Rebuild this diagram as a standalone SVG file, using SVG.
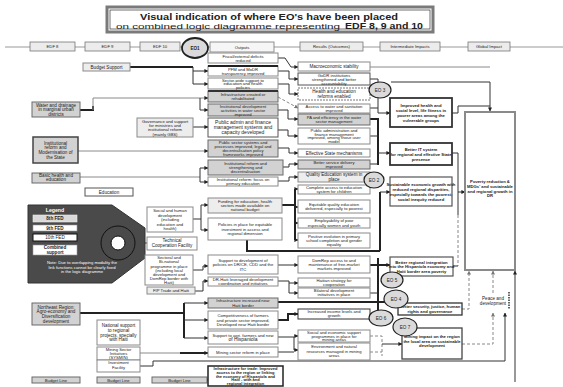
<svg xmlns="http://www.w3.org/2000/svg" width="563" height="387" viewBox="0 0 563 387">
<style>
.bx{fill:#fff;stroke:#8a8a8a;stroke-width:1}
.gy{fill:#d2d2d2;stroke:#6a6a6a;stroke-width:1}
.lg{fill:#ededed;stroke:#8a8a8a;stroke-width:1}
.dk{fill:#fff;stroke:#333;stroke-width:1.6}
.ds{fill:#fff;stroke:#777;stroke-width:1;stroke-dasharray:2 1}
.t{font-family:"Liberation Sans",Arial,sans-serif;font-size:4.6px;fill:#222;text-anchor:middle}
.s{font-size:4.2px}
.b{font-weight:bold}
.w{fill:#fff}
.c{fill:none;stroke:#333;stroke-width:1}
.ct{fill:none;stroke:#222;stroke-width:2}
.cg{fill:none;stroke:#8a8a8a;stroke-width:1}
.cd{fill:none;stroke:#888;stroke-width:1;stroke-dasharray:3 2}
.eo{fill:#dadada;stroke:#222;stroke-width:1.2}
.tab{fill:#ececec;stroke:#777;stroke-width:0.8}
</style>
<defs>
<marker id="a" markerWidth="4" markerHeight="4" refX="3.6" refY="2" orient="auto" markerUnits="userSpaceOnUse"><path d="M0,0 L4,2 L0,4z" fill="#222"/></marker>
<marker id="ag" markerWidth="4" markerHeight="4" refX="3.6" refY="2" orient="auto" markerUnits="userSpaceOnUse"><path d="M0,0 L4,2 L0,4z" fill="#777"/></marker>
</defs>
<rect width="563" height="387" fill="#fff"/>

<g id="title">
<rect x="107" y="7" width="326" height="25" fill="#fff" stroke="#7a7a7a" stroke-width="3"/>
<rect x="110" y="10" width="320" height="19" fill="none" stroke="#333" stroke-width="0.7"/>
<text class="t b" x="140" y="20" style="font-size:9.5px;text-anchor:start" textLength="258" lengthAdjust="spacingAndGlyphs">Visual indication of where EO's have been placed</text>
<text class="t" x="116" y="29" style="font-size:7.5px;text-anchor:start" textLength="224" lengthAdjust="spacingAndGlyphs">on combined logic diagramme representing</text>
<text class="t b" x="345" y="29" style="font-size:9px;text-anchor:start" textLength="78" lengthAdjust="spacingAndGlyphs">EDF 8, 9 and 10</text>
</g>

<g id="header">
<line x1="5" y1="47" x2="563" y2="47" stroke="#999" stroke-width="1"/>
<rect class="tab" x="30" y="42" width="45" height="9"/><text class="t s" x="52.5" y="48">EDF 8</text>
<rect class="tab" x="85" y="42" width="45" height="9"/><text class="t s" x="107.5" y="48">EDF 9</text>
<rect class="tab" x="140" y="42" width="40" height="9"/><text class="t s" x="160" y="48">EDF 10</text>
<rect class="tab" x="210" y="42" width="64" height="10" style="fill:#f6f6f6"/><text class="t s" x="242" y="48.5">Outputs</text>
<rect class="tab" x="300" y="42" width="63" height="9"/><text class="t s" x="331.5" y="48">Results (Outcomes)</text>
<rect class="tab" x="380" y="42" width="60" height="9"/><text class="t s" x="410" y="48">Intermediate Impacts</text>
<rect class="tab" x="468" y="42" width="42" height="9"/><text class="t s" x="489" y="48">Global Impact</text>
</g>

<g id="connectors">
<path class="ct" d="M130,67 H193"/>
<path class="c" d="M193,67 V71 H208" marker-end="url(#a)"/>
<path class="c" d="M193,71 V84 H208" marker-end="url(#a)"/>
<path class="ct" d="M80,110 H93 V106"/>
<path class="cg" d="M93,98 V110"/>
<path class="cg" d="M93,98 H208" marker-end="url(#a)"/>
<path class="c" d="M200,98 V110 H208" marker-end="url(#a)"/>
<path class="c" d="M193,127 H208" marker-end="url(#a)"/>
<path class="cg" d="M78,151 H208" marker-end="url(#a)"/>
<path class="cg" d="M80,177 H200"/>
<path class="c" d="M200,168 V182"/>
<path class="c" d="M200,168 H208" marker-end="url(#a)"/>
<path class="c" d="M200,182 H208" marker-end="url(#a)"/>
<path class="c" d="M193,219 H201 V205 H208" marker-end="url(#a)"/>
<path class="c" d="M201,219 V230 H208" marker-end="url(#a)"/>
<path class="c" d="M135,243 H147"/>
<path class="c" d="M193,270 H203 V266 H208" marker-end="url(#a)"/>
<path class="c" d="M195,291 H203 V281 H208" marker-end="url(#a)"/>
<path class="ct" d="M80,313 H184"/>
<path class="ct" d="M184,303 V338"/>
<path class="c" d="M184,303 H208" marker-end="url(#a)"/>
<path class="c" d="M184,320 H208" marker-end="url(#a)"/>
<path class="c" d="M184,338 H208" marker-end="url(#a)"/>
<path class="cg" d="M140,353 H180"/>
<path class="ct" d="M180,353 H208" marker-end="url(#a)"/>
<path class="c" d="M140,366 H153 V361 H505 V313" marker-end="url(#a)"/>
<path class="c" d="M207,380 H208"/>
<path class="c" d="M278,58 H285 L291,67 H298" marker-end="url(#a)"/>
<path class="c" d="M278,71 H289 V79 H298" marker-end="url(#a)"/>
<path class="c" d="M278,84 H289 V94 H298" marker-end="url(#a)"/>
<path class="cd" d="M278,97 L298,108" marker-end="url(#ag)"/>
<path class="c" d="M278,110 H288 V119 H298" marker-end="url(#a)"/>
<path class="c" d="M278,130 H288 V136 H298" marker-end="url(#a)"/>
<path class="c" d="M278,148 H289 V153 H298" marker-end="url(#a)"/>
<path class="c" d="M278,167 H289 V164 H298" marker-end="url(#a)"/>
<path class="c" d="M278,181 H289 V177 H298" marker-end="url(#a)"/>
<path class="ct" d="M278,205 H295"/>
<path class="ct" d="M295,189 V240"/>
<path class="c" d="M295,189 H298" marker-end="url(#a)"/>
<path class="c" d="M295,207 H298" marker-end="url(#a)"/>
<path class="c" d="M295,223 H298" marker-end="url(#a)"/>
<path class="c" d="M295,240 H298" marker-end="url(#a)"/>
<path class="ct" d="M247,240 V251 H380"/>
<path class="ct" d="M380,192 V251"/>
<path class="c" d="M380,192 H390" marker-end="url(#a)"/>
<path class="c" d="M278,265 H298" marker-end="url(#a)"/>
<path class="c" d="M278,281 H289 V293 H298" marker-end="url(#a)"/>
<path class="c" d="M289,283 H298" marker-end="url(#a)"/>
<path class="ct" d="M278,302 H385"/>
<path class="ct" d="M278,320 H288 V314 H298" marker-end="url(#a)"/>
<path class="c" d="M278,337 H294 V350 H298" marker-end="url(#a)"/>
<path class="c" d="M294,336 H298" marker-end="url(#a)"/>
<path class="c" d="M278,352 H294"/>
<path class="cg" d="M370,67 H490"/>
<path class="c" d="M391,82 H490 V111" marker-end="url(#a)"/>
<path class="c" d="M370,79 H378 V113 H390" marker-end="url(#a)"/>
<path class="c" d="M370,94 H378 M370,108 H378"/>
<path class="c" d="M452,113 H458 V106 H490"/>
<path class="ct" d="M370,119 H378 V165"/>
<path class="c" d="M370,136 H378 M370,164 H378"/>
<path class="c" d="M378,153 H390" marker-end="url(#a)"/>
<path class="c" d="M452,153 H458 V215"/>
<path class="c" d="M458,192 H465" marker-end="url(#a)"/>
<path class="cd" d="M458,215 V266"/>
<path class="c" d="M453,266 H458"/>
<path class="ct" d="M370,265 H390" marker-end="url(#a)"/>
<path class="ct" d="M378,258 V318"/>
<path class="c" d="M370,293 H378 M370,314 H378"/>
<path class="cd" d="M462,309 H469 V271" marker-end="url(#ag)"/>
<path class="cd" d="M493,293 V271" marker-end="url(#ag)"/>
<path class="cd" d="M462,344 H493 V313" marker-end="url(#ag)"/>
<path d="M509,292 V309" fill="none" stroke="#333" stroke-width="1.5" stroke-dasharray="1.5 1"/>
<path class="c" d="M515,382 V271" marker-end="url(#a)"/>
<path class="cd" d="M370,336 H382 V356 M370,352 H382"/>
<path class="c" d="M382,344 H402" marker-end="url(#a)"/>
</g>

<g id="legend">
<polygon points="28,205 112,205 145,228 145,258 112,283 28,283" fill="#4a4a4a" stroke="#333"/>
<text class="t b w" x="55" y="212" style="font-size:5.2px">Legend</text>
<rect x="33" y="215" width="44" height="7" fill="#d9d9d9" stroke="#eee" stroke-width="0.6"/><text class="t b" x="55" y="220.3">8th FED</text>
<rect x="33" y="225" width="44" height="6" fill="#fff" stroke="#999" stroke-width="0.6"/><text class="t b" x="55" y="229.8">9th FED</text>
<rect x="33" y="234" width="44" height="7" fill="#fff" stroke="#111" stroke-width="1"/><text class="t" x="55" y="239.3">10th FED</text>
<rect x="33" y="245" width="44" height="10" fill="#fff" stroke="#999" stroke-width="0.6"/><text class="t b" x="55" y="249.3">Combined<tspan x="55" dy="4.4">support</tspan></text>
<circle cx="118" cy="243" r="17" fill="none" stroke="#111" stroke-width="1"/>
<circle cx="118" cy="243" r="7" fill="#fff" stroke="#111" stroke-width="1"/>
<text class="t w s" x="82" y="264">Note: Due to overlapping modality the<tspan x="82" dy="4.6">link functions cannot be clearly fixed</tspan><tspan x="82" dy="4.6">in the logic diagramme</tspan></text>
</g>

<g id="edf8">
<g id="n-water"><rect class="gy" x="32" y="102" width="48" height="15"/><text class="t" x="56" y="106.8">Water and drainage<tspan x="56" dy="4.5">in marginal urban</tspan><tspan x="56" dy="4.5">districts</tspan></text></g>
<g id="n-inst"><rect x="33" y="137" width="45" height="26" fill="#d2d2d2" stroke="#444" stroke-width="1.5"/><text class="t" x="55.5" y="144.6">Institutional<tspan x="55.5" dy="4.8">reform and</tspan><tspan x="55.5" dy="4.8">Modernisation of</tspan><tspan x="55.5" dy="4.8">the State</tspan></text></g>
<g id="n-basic"><rect class="gy" x="32" y="173" width="48" height="10"/><text class="t" x="56" y="176.8">Basic health and<tspan x="56" dy="4.4">education</tspan></text></g>
<g id="n-ne"><rect class="gy" x="32" y="303" width="48" height="22"/><text class="t" x="56" y="308.8">Northeast Region:<tspan x="56" dy="4.6">Agro-economy and</tspan><tspan x="56" dy="4.6">Diversification</tspan><tspan x="56" dy="4.6">development</tspan></text></g>
<g id="n-bl1"><rect class="gy" x="32" y="377" width="48" height="6"/><text class="t s" x="56" y="381.5">Budget Line</text></g>
</g>

<g id="edf9">
<g id="n-budget"><rect class="lg" x="83" y="63" width="47" height="8"/><text class="t" x="106.5" y="68.6">Budget Support</text></g>
<g id="n-edu"><rect class="bx" x="85" y="188" width="48" height="8" style="stroke:#555"/><text class="t" x="109" y="193.6">Education</text></g>
<g id="n-natsup"><rect class="bx" x="97" y="320" width="43" height="25"/><text class="t" x="118.5" y="327.3">National support<tspan x="118.5" dy="4.6">to regional</tspan><tspan x="118.5" dy="4.6">projects, specially</tspan><tspan x="118.5" dy="4.6">with Haiti</tspan></text></g>
<g id="n-sysmin"><rect class="bx" x="97" y="347" width="43" height="13"/><text class="t s" x="118.5" y="350.8">Mining Sector<tspan x="118.5" dy="4">Initiatives</tspan><tspan x="118.5" dy="4">(SYSMIN)</tspan></text></g>
<g id="n-invest"><rect class="bx" x="97" y="360" width="43" height="12"/><text class="t s" x="118.5" y="364.4">Investment<tspan x="118.5" dy="4.4">Facility</tspan></text></g>
<g id="n-bl2"><rect class="gy" x="97" y="377" width="43" height="6"/><text class="t s" x="118.5" y="381.5">Budget Line</text></g>
</g>

<g id="edf10">
<g id="n-gov"><rect class="lg" x="137" y="118" width="56" height="19"/><text class="t s" x="165" y="122.6">Governance and support<tspan x="165" dy="4.4">for ministries and</tspan><tspan x="165" dy="4.4">institutional reform</tspan><tspan x="165" dy="4.4">(mainly GBS)</tspan></text></g>
<g id="n-social"><rect class="bx" x="147" y="207" width="46" height="25"/><text class="t s" x="170" y="211.9">Social and human<tspan x="170" dy="4.6">development</tspan><tspan x="170" dy="4.6">(including</tspan><tspan x="170" dy="4.6">education and</tspan><tspan x="170" dy="4.6">health)</tspan></text></g>
<g id="n-tcf"><rect class="bx" x="147" y="237" width="50" height="13"/><text class="t" x="172" y="241.9">Technical<tspan x="172" dy="4.6">Cooperation Facility</tspan></text></g>
<g id="n-sect"><rect class="bx" x="145" y="255" width="48" height="30"/><text class="t s" x="169" y="259.3">Sectoral and<tspan x="169" dy="4.1">Bi-national</tspan><tspan x="169" dy="4.1">programme in place</tspan><tspan x="169" dy="4.1">(including local</tspan><tspan x="169" dy="4.1">development and</tspan><tspan x="169" dy="4.1">DomRep border with</tspan><tspan x="169" dy="4.1">Haiti)</tspan></text></g>
<g id="n-fip"><rect class="lg" x="147" y="287" width="48" height="7"/><text class="t s" x="171" y="292">FIP Trade and Haiti</text></g>
<g id="n-bl3"><rect class="gy" x="152" y="377" width="55" height="6"/><text class="t s" x="179.5" y="381.5">Budget Line</text></g>
</g>

<g id="outputs">
<g id="o1"><rect class="bx" x="208" y="53" width="70" height="10"/><text class="t s" x="243" y="57.6">Fiscal/external deficits<tspan x="243" dy="4.2">reduced</tspan></text></g>
<g id="o2"><rect class="bx" x="208" y="66" width="70" height="10"/><line x1="208" y1="66" x2="278" y2="66" stroke="#222" stroke-width="2"/><text class="t s" x="243" y="70.6">PFM and MoDR<tspan x="243" dy="4.2">transparency improved</tspan></text></g>
<g id="o3"><rect class="bx" x="208" y="78" width="70" height="11"/><text class="t s" x="243" y="81.6">Sector-wide support to<tspan x="243" dy="3.8">education and health</tspan><tspan x="243" dy="3.8">policies</tspan></text></g>
<g id="o4"><rect class="gy" x="208" y="91" width="70" height="11"/><line x1="208" y1="91" x2="278" y2="91" stroke="#333" stroke-width="2"/><text class="t s" x="243" y="95.8">Infrastructure created or<tspan x="243" dy="4.4">rehabilitated</tspan></text></g>
<g id="o5"><rect class="gy" x="208" y="104" width="70" height="12"/><text class="t s" x="243" y="107.7">Institutional development<tspan x="243" dy="3.9">activities in water sector</tspan><tspan x="243" dy="3.9">improved</tspan></text></g>
<g id="o6"><rect class="bx" x="208" y="118" width="70" height="19" style="stroke:#555"/><text class="t" x="243" y="124.3" style="font-size:5px">Public admin and finance<tspan x="243" dy="4.8">management systems and</tspan><tspan x="243" dy="4.8">capacity developed</tspan></text></g>
<g id="o7"><rect class="gy" x="208" y="140" width="70" height="17"/><text class="t s" x="243" y="144.1">Public sector systems and<tspan x="243" dy="4">processes improved, legal and</tspan><tspan x="243" dy="4">decentralisation policy</tspan><tspan x="243" dy="4">frameworks improved</tspan></text></g>
<g id="o8"><rect class="gy" x="208" y="160" width="75" height="15"/><text class="t s" x="245.5" y="164.8">Institutional reform and<tspan x="245.5" dy="4.3">strengthening and</tspan><tspan x="245.5" dy="4.3">decentralisation</tspan></text></g>
<g id="o9"><rect class="bx" x="208" y="177" width="70" height="9"/><text class="t s" x="243" y="181.1">Institutional reform: focus on<tspan x="243" dy="3.8">primary education</tspan></text></g>
<g id="o10"><rect class="lg" x="208" y="198" width="74" height="15"/><text class="t s" x="245" y="202.9">Funding for education, health<tspan x="245" dy="4.2">sectors made available on</tspan><tspan x="245" dy="4.2">national budget</tspan></text></g>
<g id="o11"><rect class="bx" x="208" y="218" width="74" height="22"/><text class="t s" x="245" y="226">Policies in place for equitable<tspan x="245" dy="4.6">investment in access and</tspan><tspan x="245" dy="4.6">regional dimension</tspan></text></g>
<g id="o12"><rect class="bx" x="208" y="255" width="70" height="19"/><text class="t s" x="243" y="261.5">Support to development of<tspan x="243" dy="4.6">policies on DR/CE, CDD and the</tspan><tspan x="243" dy="4.6">ITC</tspan></text></g>
<g id="o13"><rect class="bx" x="208" y="277" width="70" height="9"/><text class="t s" x="243" y="281">DR-Haiti leveraged development<tspan x="243" dy="3.9">coordination and initiatives</tspan></text></g>
<g id="o14"><rect class="gy" x="208" y="298" width="70" height="10"/><text class="t s" x="243" y="302.4">Infrastructure increased near<tspan x="243" dy="4.2">Haiti border</tspan></text></g>
<g id="o15"><rect class="bx" x="208" y="311" width="70" height="18"/><text class="t s" x="243" y="317.2">Competitiveness of farmers<tspan x="243" dy="4.4">and private sector improved,</tspan><tspan x="243" dy="4.4">Developed near Haiti border</tspan></text></g>
<g id="o16"><rect class="bx" x="208" y="331" width="70" height="13"/><text class="t s" x="243" y="336.6">Support to agri. farmers and new<tspan x="243" dy="4.6" style="font-size:5px">of Hispaniola</tspan></text></g>
<g id="o17"><rect class="bx" x="208" y="347" width="70" height="10"/><text class="t s" x="243" y="353.5">Mining sector reform in place</text></g>
<g id="o18"><rect x="208" y="366" width="75" height="20" fill="#fff" stroke="#222" stroke-width="1.5"/><text class="t b" x="245.5" y="370.1" style="font-size:4px">Infrastructure for trade: Improved<tspan x="245.5" dy="3.7">access to the region or linking</tspan><tspan x="245.5" dy="3.7">the economy of Hispaniola and</tspan><tspan x="245.5" dy="3.7">Haiti - with and</tspan><tspan x="245.5" dy="3.7">regional integration</tspan></text></g>
</g>

<g id="results">
<g id="r1"><rect class="bx" x="298" y="62" width="72" height="9"/><text class="t" x="334" y="68.2">Macroeconomic stability</text></g>
<g id="r2"><rect class="bx" x="298" y="73" width="72" height="12" style="stroke:#555"/><text class="t s" x="334" y="76.7">GoDR institutions<tspan x="334" dy="3.9">strengthened and better</tspan><tspan x="334" dy="3.9">accountability</tspan></text></g>
<g id="r3"><rect class="ds" x="298" y="88" width="72" height="12"/><text class="t" x="334" y="93.4">Health and education<tspan x="334" dy="4.4">reforms enabled</tspan></text></g>
<g id="r4"><rect class="bx" x="298" y="104" width="72" height="9"/><text class="t s" x="334" y="107.9">Access to water and sanitation<tspan x="334" dy="4">improved</tspan></text></g>
<g id="r5"><rect class="gy" x="298" y="114" width="72" height="11"/><text class="t s" x="334" y="118.9">PA and efficiency in the water<tspan x="334" dy="4.2">sector management</tspan></text></g>
<g id="r6"><rect class="bx" x="298" y="128" width="72" height="16"/><text class="t s" x="334" y="132">Public administration and<tspan x="334" dy="3.7">finance management</tspan><tspan x="334" dy="3.7">improved, among those user</tspan><tspan x="334" dy="3.7">model</tspan></text></g>
<g id="r7"><rect class="bx" x="298" y="149" width="72" height="8"/><text class="t" x="334" y="154.6">Effective State mechanisms</text></g>
<g id="r8"><rect class="gy" x="298" y="160" width="72" height="9"/><text class="t s" x="334" y="163.9">Better service delivery<tspan x="334" dy="4">improved</tspan></text></g>
<g id="r9"><rect class="lg" x="298" y="172" width="72" height="10"/><text class="t" x="334" y="176.4">Quality Education system in<tspan x="334" dy="4.2">place</tspan></text></g>
<g id="r10"><rect class="bx" x="298" y="185" width="72" height="9"/><text class="t s" x="334" y="188.9">Complete access to education<tspan x="334" dy="4">system for children</tspan></text></g>
<g id="r11"><rect class="bx" x="298" y="200" width="72" height="13"/><text class="t s" x="334" y="205.8">Equitable quality education<tspan x="334" dy="4.4">delivered, especially to poorest</tspan></text></g>
<g id="r12"><rect class="bx" x="298" y="218" width="72" height="10"/><text class="t s" x="334" y="222.4">Employability of poor<tspan x="334" dy="4.2">especially women and youth</tspan></text></g>
<g id="r13"><rect class="bx" x="298" y="233" width="72" height="15"/><text class="t s" x="334" y="237.9">Positive evolution in primary<tspan x="334" dy="4.2">school completion and gender</tspan><tspan x="334" dy="4.2">equality</tspan></text></g>
<g id="r14"><rect class="bx" x="298" y="256" width="72" height="17"/><text class="t s" x="334" y="261.9">DomRep access to and<tspan x="334" dy="4.2">maintenance of free-market</tspan><tspan x="334" dy="4.2">markets improved</tspan></text></g>
<g id="r15"><rect class="bx" x="298" y="278" width="72" height="9"/><text class="t s" x="334" y="281.9">Haitian strategy for<tspan x="334" dy="4">cooperation</tspan></text></g>
<g id="r16"><rect class="bx" x="298" y="288" width="72" height="10"/><text class="t s" x="334" y="292.4">Bilateral development<tspan x="334" dy="4">initiatives in place</tspan></text></g>
<g id="r17"><rect class="bx" x="298" y="309" width="72" height="10" style="stroke:#333"/><text class="t s" x="334" y="313.4">Increased income levels and<tspan x="334" dy="4">growth</tspan></text></g>
<g id="r18"><rect class="bx" x="298" y="330" width="72" height="12"/><text class="t s" x="334" y="333.7">Social and economic support<tspan x="334" dy="3.8">programmes in place for</tspan><tspan x="334" dy="3.8">mining areas</tspan></text></g>
<g id="r19"><rect class="bx" x="298" y="343" width="72" height="17"/><text class="t s" x="334" y="348.4">Environment and natural<tspan x="334" dy="4.2">resources managed in mining</tspan><tspan x="334" dy="4.2">areas</tspan></text></g>
</g>

<g id="impacts">
<g id="i1"><rect x="390" y="98" width="62" height="29" fill="#fff" stroke="#333" stroke-width="1.8"/><text class="t b s" x="421" y="106.6">Improved health and<tspan x="421" dy="5">social level, life fitness in</tspan><tspan x="421" dy="5">poorer areas among the</tspan><tspan x="421" dy="5">vulnerable groups</tspan></text></g>
<g id="i2"><rect x="390" y="143" width="62" height="22" fill="#fff" stroke="#333" stroke-width="1.8"/><text class="t b s" x="421" y="150.6">Better IT system<tspan x="421" dy="5">for regional and effective State</tspan><tspan x="421" dy="5">presence</tspan></text></g>
<g id="i3"><rect x="390" y="177" width="62" height="29" fill="#fff" stroke="#555" stroke-width="1.2"/><text class="t b s" x="421" y="185.6">Sustainable economic growth with<tspan x="421" dy="5">reduced regional disparities,</tspan><tspan x="421" dy="5">especially towards the poorest;</tspan><tspan x="421" dy="5">social inequity reduced</tspan></text></g>
<g id="i4"><rect x="390" y="257" width="63" height="19" fill="#fff" stroke="#555" stroke-width="1.2"/><text class="t b s" x="421.5" y="263.5">Better regional integration<tspan x="421.5" dy="4.6">into the Hispaniola economy and</tspan><tspan x="421.5" dy="4.6">Haiti border area poverty</tspan></text></g>
<g id="i5"><rect x="398" y="303" width="64" height="12" fill="#fff" stroke="#333" stroke-width="1.3"/><text class="t b s" x="430" y="308.3">Better security, justice, human<tspan x="430" dy="4.6">rights and governance</tspan></text></g>
<g id="i6"><rect x="402" y="328" width="60" height="31" fill="#fff" stroke="#444" stroke-width="1.3"/><text class="t b s" x="432" y="338">Mining impact on the region<tspan x="432" dy="4.6">the local area on sustainable</tspan><tspan x="432" dy="4.6">development</tspan></text></g>
</g>

<g id="global">
<rect x="465" y="112" width="50" height="158" fill="#fff" stroke="#8a8a8a" stroke-width="2"/>
<text class="t b" x="490" y="183" style="font-size:4.2px">Poverty reduction &amp;<tspan x="490" dy="4.8">MDGs' and sustainable</tspan><tspan x="490" dy="4.8">and regional growth in</tspan><tspan x="490" dy="4.8">DR</tspan></text>
<text class="t" x="493" y="300">Peace and<tspan x="493" dy="5">development</tspan></text>
</g>

<g id="eos">
<g id="eo1"><ellipse class="eo" cx="195" cy="48" rx="13" ry="10" style="stroke-width:1.8"/><text class="t b" x="195" y="49.6">EO1</text></g>
<g id="eo3"><ellipse class="eo" cx="380" cy="90" rx="11" ry="8"/><text class="t" x="380" y="91.6">EO 3</text></g>
<g id="eo2"><ellipse class="eo" cx="374" cy="180" rx="10" ry="8"/><text class="t" x="374" y="181.6">EO 2</text></g>
<g id="eo5"><ellipse class="eo" cx="392" cy="280" rx="11" ry="8"/><text class="t" x="392" y="281.6">EO 5</text></g>
<g id="eo4"><ellipse class="eo" cx="396" cy="299" rx="12" ry="9"/><text class="t" x="396" y="300.6">EO 4</text></g>
<g id="eo6"><ellipse class="eo" cx="381" cy="318" rx="12" ry="8"/><text class="t" x="381" y="319.6">EO 6</text></g>
<g id="eo7"><ellipse class="eo" cx="405" cy="327" rx="12" ry="9"/><text class="t" x="405" y="328.6">EO 7</text></g>
</g>
</svg>
